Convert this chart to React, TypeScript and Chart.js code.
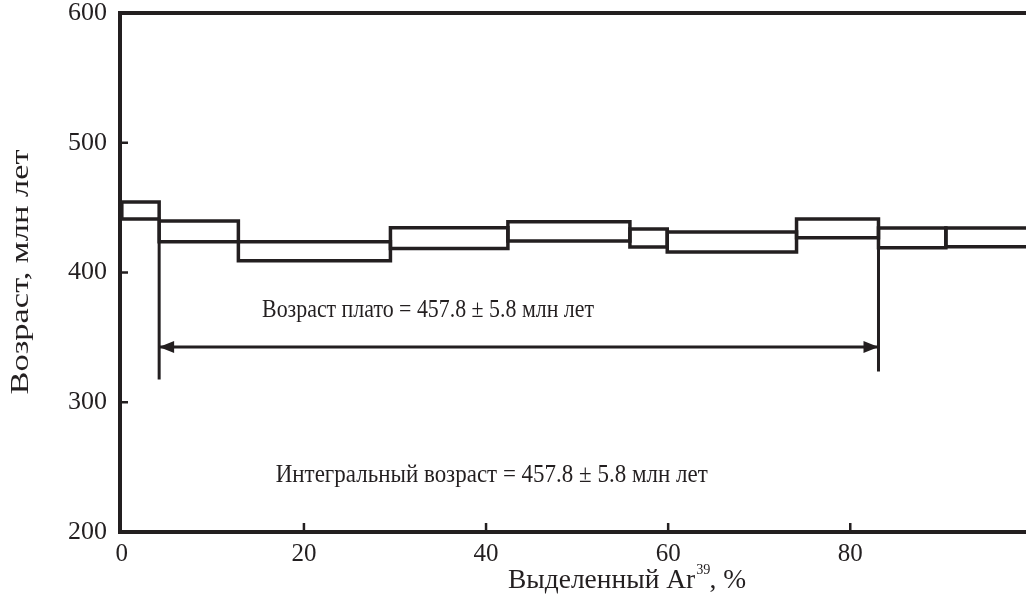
import React, { useEffect, useRef } from "react";
import { Chart, registerables } from "chart.js";

Chart.register(...registerables);

// ---- data ----
const stepBounds = [0, 4.1, 12.8, 29.5, 42.4, 55.8, 59.9, 74.1, 83.1, 90.5, 100];
const stepTop = [454.3, 439.7, 423.7, 434.5, 439.2, 433.5, 431.2, 441.2, 434.3, 434.3];
const stepBottom = [441.2, 423.7, 409.1, 418.5, 424.3, 419.7, 415.8, 426.8, 419.1, 419.9];

const plateauStart = 4.1;
const plateauEnd = 83.1;
const plateauStartDrop = 318.7;
const plateauEndDrop = 324.9;
const arrowLevel = 342.6;

const xTicks = [0, 20, 40, 60, 80];
const yTicks = [200, 300, 400, 500, 600];
const xMarks = [20, 40, 60, 80];
const yMarks = [300, 400, 500];

const plateauText = "Возраст плато = 457.8 ± 5.8 млн лет";
const integralText = "Интегральный возраст = 457.8 ± 5.8 млн лет";
const yTitle = "Возраст, млн лет";
const xTitleMain = "Выделенный Ar";
const xTitleSup = "39";
const xTitleTail = ", %";

const INK = "#231f20";
const FONT = "'Liberation Serif', 'Times New Roman', serif";

function fittedText(ctx: CanvasRenderingContext2D, text: string, x: number, y: number, size: number, width: number) {
  ctx.font = `${size}px ${FONT}`;
  const w = ctx.measureText(text).width;
  ctx.save();
  ctx.translate(x, y);
  ctx.scale(width / w, 1);
  ctx.textAlign = "left";
  ctx.textBaseline = "middle";
  ctx.fillText(text, 0, 0);
  ctx.restore();
}

const decorPlugin = {
  id: "decor",
  afterDatasetsDraw(chart: any) {
    const { ctx, chartArea, scales } = chart;
    const xs = scales.x;
    const ys = scales.y;
    ctx.save();
    ctx.strokeStyle = INK;
    ctx.fillStyle = INK;
    // top frame line
    ctx.lineWidth = 4;
    ctx.beginPath();
    ctx.moveTo(chartArea.left - 2, chartArea.top);
    ctx.lineTo(chartArea.right, chartArea.top);
    ctx.stroke();
    // inner tick marks
    ctx.lineWidth = 2.5;
    xMarks.forEach((v) => {
      const px = xs.getPixelForValue(v);
      ctx.beginPath();
      ctx.moveTo(px, chartArea.bottom);
      ctx.lineTo(px, chartArea.bottom - 9);
      ctx.stroke();
    });
    yMarks.forEach((v) => {
      const py = ys.getPixelForValue(v);
      ctx.beginPath();
      ctx.moveTo(chartArea.left, py);
      ctx.lineTo(chartArea.left + 8, py);
      ctx.stroke();
    });
    // arrowheads
    const ay = ys.getPixelForValue(arrowLevel);
    const ax0 = xs.getPixelForValue(plateauStart);
    const ax1 = xs.getPixelForValue(plateauEnd);
    const L = 15, H = 6;
    ctx.beginPath();
    ctx.moveTo(ax0, ay);
    ctx.lineTo(ax0 + L, ay - H);
    ctx.lineTo(ax0 + L, ay + H);
    ctx.closePath();
    ctx.fill();
    ctx.beginPath();
    ctx.moveTo(ax1, ay);
    ctx.lineTo(ax1 - L, ay - H);
    ctx.lineTo(ax1 - L, ay + H);
    ctx.closePath();
    ctx.fill();
    // annotation texts
    fittedText(ctx, plateauText, xs.getPixelForValue(15.4), ys.getPixelForValue(371), 26, 332);
    fittedText(ctx, integralText, xs.getPixelForValue(16.9), ys.getPixelForValue(244), 26, 432);
    // y title
    ctx.save();
    ctx.translate(21, 272);
    ctx.rotate(-Math.PI / 2);
    ctx.font = `26px ${FONT}`;
    const yw = ctx.measureText(yTitle).width;
    ctx.scale(245 / yw, 1);
    ctx.textAlign = "center";
    ctx.textBaseline = "middle";
    ctx.fillText(yTitle, 0, 0);
    ctx.restore();
    // x title with superscript
    ctx.save();
    ctx.font = `27px ${FONT}`;
    const w1 = ctx.measureText(xTitleMain).width;
    const w3 = ctx.measureText(xTitleTail).width;
    ctx.font = `14px ${FONT}`;
    const w2 = ctx.measureText(xTitleSup).width;
    const total = w1 + w2 + w3;
    const sx = 238 / total;
    ctx.translate(508, 581);
    ctx.scale(sx, 1);
    ctx.textAlign = "left";
    ctx.textBaseline = "middle";
    ctx.font = `27px ${FONT}`;
    ctx.fillText(xTitleMain, 0, 0);
    ctx.font = `14px ${FONT}`;
    ctx.fillText(xTitleSup, w1 + 1, -11);
    ctx.font = `27px ${FONT}`;
    ctx.fillText(xTitleTail, w1 + w2, 0);
    ctx.restore();
    ctx.restore();
  },
};

export default function App() {
  const ref = useRef<HTMLCanvasElement | null>(null);
  useEffect(() => {
    document.body.style.margin = "0";
    const canvas = ref.current!;
    const lineDs = (pts: { x: number; y: number }[], width: number) => ({
      data: pts,
      borderColor: INK,
      backgroundColor: INK,
      borderWidth: width,
      pointRadius: 0,
      fill: false,
      tension: 0,
      showLine: true,
      borderJoinStyle: "miter" as const,
      borderCapStyle: "square" as const,
    });
    const datasets: any[] = [];
    for (let i = 0; i < stepTop.length; i++) {
      const x0 = stepBounds[i];
      const x1 = stepBounds[i + 1];
      datasets.push(
        lineDs(
          [
            { x: x0, y: stepBottom[i] },
            { x: x0, y: stepTop[i] },
            { x: x1, y: stepTop[i] },
            { x: x1, y: stepBottom[i] },
            { x: x0, y: stepBottom[i] },
          ],
          3.5
        )
      );
    }
    datasets.push(
      lineDs(
        [
          { x: plateauStart, y: stepBottom[0] },
          { x: plateauStart, y: plateauStartDrop },
        ],
        3
      )
    );
    datasets.push(
      lineDs(
        [
          { x: plateauEnd, y: stepBottom[7] },
          { x: plateauEnd, y: plateauEndDrop },
        ],
        3
      )
    );
    const arrow = lineDs(
      [
        { x: plateauStart, y: arrowLevel },
        { x: plateauEnd, y: arrowLevel },
      ],
      3
    );
    arrow.borderCapStyle = "butt" as any;
    datasets.push(arrow);

    const chart = new Chart(canvas, {
      type: "line",
      data: { datasets },
      options: {
        animation: false,
        responsive: false,
        devicePixelRatio: 1,
        layout: { padding: { top: 13, right: 0, left: 0, bottom: 0 } },
        plugins: { legend: { display: false }, tooltip: { enabled: false } },
        scales: {
          x: {
            type: "linear",
            min: -0.2,
            max: 99.3,
            grid: { display: false, drawTicks: false },
            border: { display: true, color: INK, width: 4 },
            afterBuildTicks: (s: any) => {
              s.ticks = xTicks.map((v) => ({ value: v }));
            },
            afterFit: (s: any) => {
              s.height = 76;
              s.paddingLeft = 0;
              s.paddingRight = 0;
            },
            ticks: {
              color: INK,
              font: { family: FONT, size: 25 },
              padding: 7,
              maxRotation: 0,
              autoSkip: false,
              callback: (v: any) => String(v),
            },
          },
          y: {
            type: "linear",
            min: 200,
            max: 600,
            grid: { display: false, drawTicks: false },
            border: { display: true, color: INK, width: 4 },
            afterBuildTicks: (s: any) => {
              s.ticks = yTicks.map((v) => ({ value: v }));
            },
            afterFit: (s: any) => {
              s.width = 120;
              s.paddingTop = 0;
              s.paddingBottom = 0;
            },
            ticks: {
              color: INK,
              font: { family: FONT, size: 26 },
              padding: 13,
              autoSkip: false,
              callback: (v: any) => String(v),
            },
          },
        },
      },
      plugins: [decorPlugin],
    });
    return () => chart.destroy();
  }, []);
  return (
    <div style={{ width: 1026, height: 608, background: "#fff" }}>
      <canvas ref={ref} width={1026} height={608} />
    </div>
  );
}
